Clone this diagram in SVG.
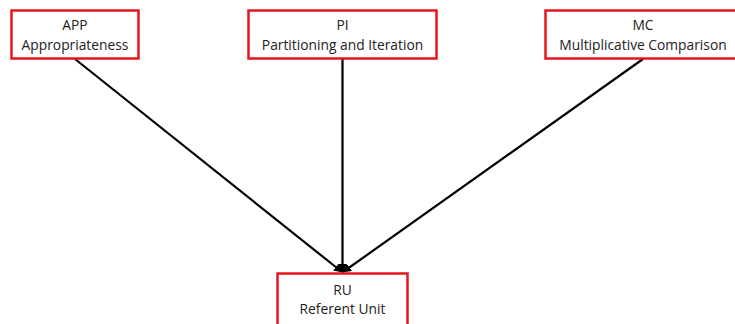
<svg xmlns="http://www.w3.org/2000/svg" width="735" height="324" viewBox="0 0 735 324">
<style>
.box{fill:#fff;stroke:#e8141b;stroke-width:2.5}
.t{font-family:"Open Sans","Liberation Sans",sans-serif;font-size:13.8px;fill:#222;text-anchor:middle}
.c{stroke:#000;stroke-width:2.2;fill:none}
</style>
<defs>
<marker id="ah" viewBox="0 0 10 10" refX="9" refY="5" markerWidth="4" markerHeight="4" orient="auto" markerUnits="strokeWidth">
<path d="M0,0 L10,5 L0,10 z" fill="#000"/>
</marker>
</defs>
<rect width="735" height="324" fill="#fff"/>
<g id="connectors">
<line class="c" x1="75" y1="59" x2="342" y2="272" marker-end="url(#ah)"/>
<line class="c" x1="342.5" y1="59" x2="342.5" y2="272" marker-end="url(#ah)"/>
<line class="c" x1="643" y1="59" x2="343" y2="272" marker-end="url(#ah)"/>
</g>
<g id="APP">
<rect class="box" x="11.5" y="10.5" width="127" height="48"/>
<text class="t" x="75" y="30">APP</text>
<text class="t" x="75" y="50">Appropriateness</text>
</g>
<g id="PI">
<rect class="box" x="248.5" y="10.5" width="188" height="48"/>
<text class="t" x="342.5" y="30">PI</text>
<text class="t" x="342.5" y="50">Partitioning and Iteration</text>
</g>
<g id="MC">
<rect class="box" x="545.5" y="10.5" width="196" height="48"/>
<text class="t" x="643" y="30">MC</text>
<text class="t" x="643" y="50">Multiplicative Comparison</text>
</g>
<g id="RU">
<rect class="box" x="277.5" y="273.5" width="130" height="56"/>
<text class="t" x="342.5" y="295">RU</text>
<text class="t" x="342.5" y="314">Referent Unit</text>
</g>
</svg>
